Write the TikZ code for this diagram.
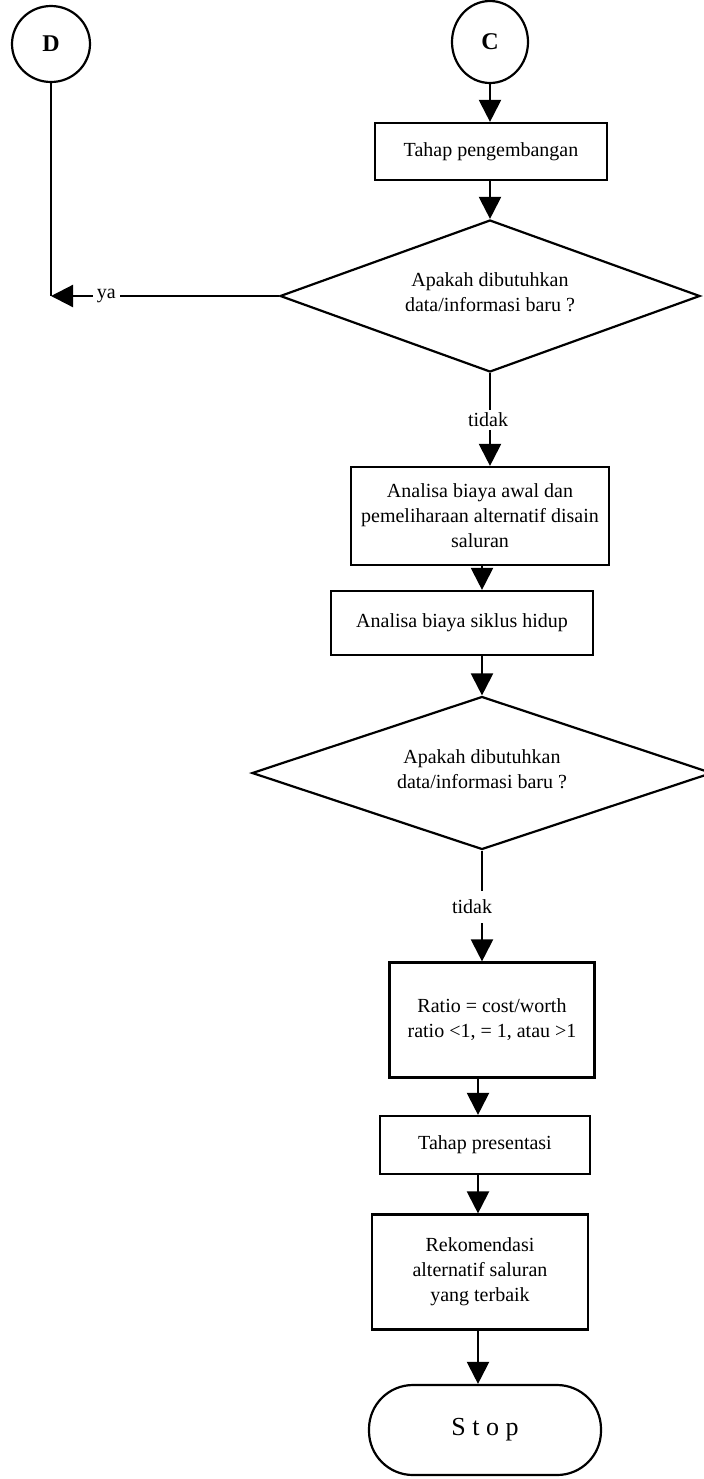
\documentclass[tikz,border=0pt]{standalone}
\usepackage{fontspec}
\setmainfont{Liberation Serif}
\usetikzlibrary{shapes.geometric,arrows.meta}
\begin{document}
\begin{tikzpicture}[x=0.5pt,y=-0.5pt,
  line width=1.1pt,
  every node/.style={font=\fontsize{10}{12.5}\selectfont},
  conn/.style={draw,ellipse,inner sep=0pt,font=\fontsize{12}{14}\selectfont\bfseries},
  procbox/.style={draw,rectangle,inner sep=0pt,align=center},
  decision/.style={draw,diamond,inner sep=0pt},
  terminal/.style={draw,rectangle,rounded corners=22pt,inner sep=0pt},
  flow/.style={-{Triangle[length=11pt,width=11pt]}},
  lbl/.style={inner sep=2pt,fill=white}]
\useasboundingbox (0,0) rectangle (703,1479);

% connectors (off-page references)
\node[conn,minimum width=39pt,minimum height=38pt] (D) at (51,44) {D};
\node[conn,minimum width=38pt,minimum height=41pt] (C) at (490,42) {C};

% main column
\node[procbox,minimum width=116pt,minimum height=28.5pt] (dev) at (491,151.5) {Tahap pengembangan};
\node[decision,aspect=2.76,minimum width=210pt,minimum height=76pt,
  label={[align=center,yshift=2pt]center:Apakah dibutuhkan\\data/informasi baru ?}] (q1) at (490,296) {};
\node[inner sep=1pt] (no1) at (488,420) {tidak};
\node[procbox,minimum width=129pt,minimum height=49pt] (cost) at (480,516)
  {Analisa biaya awal dan\\pemeliharaan alternatif disain\\saluran};
\node[procbox,minimum width=131pt,minimum height=32pt] (lcc) at (462,623) {Analisa biaya siklus hidup};
\node[decision,aspect=3.0,minimum width=230pt,minimum height=76.5pt,
  label={[align=center,yshift=2pt]center:Apakah dibutuhkan\\data/informasi baru ?}] (q2) at (482,773) {};
\node[inner sep=4pt] (no2) at (472,907) {tidak};
\node[procbox,minimum width=102.5pt,minimum height=57.5pt] (ratio) at (492,1020)
  {Ratio = cost/worth\\ratio <1, = 1, atau >1};
\node[procbox,minimum width=105pt,minimum height=29pt] (pres) at (485,1145) {Tahap presentasi};
\node[procbox,minimum width=108pt,minimum height=57.5pt] (rec) at (480,1272)
  {Rekomendasi\\alternatif saluran\\yang terbaik};
\node[terminal,minimum width=116pt,minimum height=45pt,font=\fontsize{13}{15}\selectfont] (stop) at (485,1430) {S t o p};

% connector columns
\coordinate (colA) at (490,0);
\coordinate (colB) at (482,0);
\coordinate (colC) at (478,0);

\draw[flow] (C.south -| colA) -- (dev.north -| colA);
\draw[flow] (dev.south -| colA) -- (q1.north -| colA);
\draw (q1.south -| colA) -- (no1.north -| colA);
\draw[flow] (no1.south -| colA) -- (cost.north -| colA);
\draw[flow] (cost.south -| colB) -- (lcc.north -| colB);
\draw[flow] (lcc.south -| colB) -- (q2.north -| colB);
\draw (q2.south -| colB) -- (no2.north -| colB);
\draw[flow] (no2.south -| colB) -- (ratio.north -| colB);
\draw[flow] (ratio.south -| colC) -- (pres.north -| colC);
\draw[flow] (pres.south -| colC) -- (rec.north -| colC);
\draw[flow] (rec.south -| colC) -- (stop.north -| colC);

% "ya" branch back to D
\coordinate (Dturn) at (D.south |- q1.west);
\draw (D.south) -- (Dturn);
\draw[flow] (q1.west) -- node[lbl,pos=0.757] {ya} (Dturn);
\end{tikzpicture}
\end{document}
